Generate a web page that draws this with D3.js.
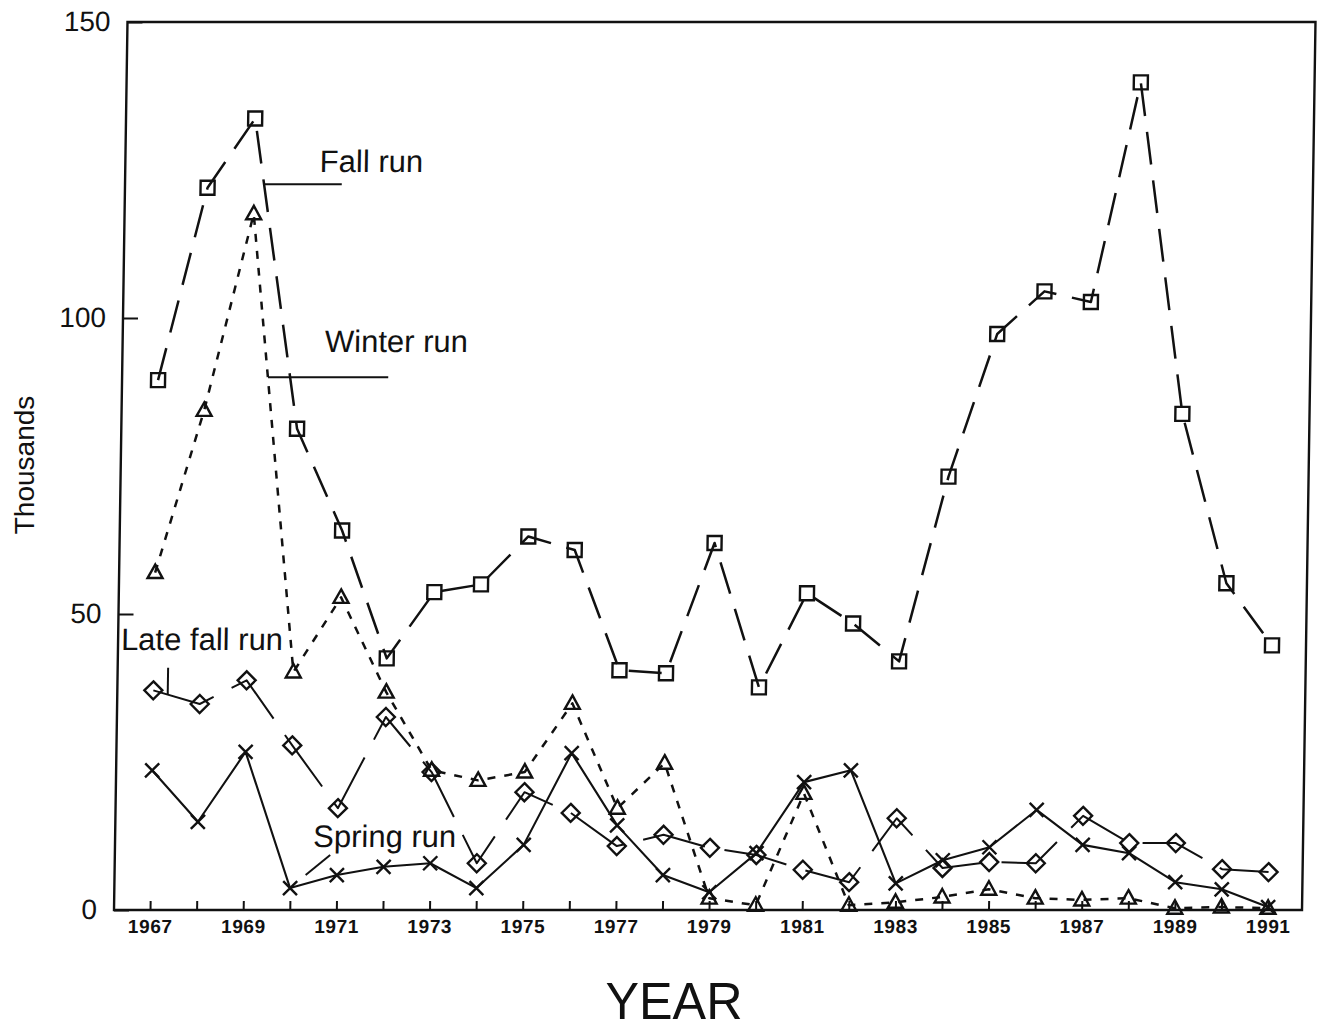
<!DOCTYPE html>
<html>
<head>
<meta charset="utf-8">
<script src="https://cdn.jsdelivr.net/npm/d3@7/dist/d3.min.js"></script>
<style>
  body { margin: 0; background: #fff; }
  svg { display: block; }
  text { font-family: "Liberation Sans", Arial, Helvetica, sans-serif; fill: #111; }
</style>
</head>
<body>
<svg id="chart" width="1325" height="1030"></svg>
<script>
// Sacramento River chinook salmon runs, spawning escapement (thousands)
const years = [1967, 1968, 1969, 1970, 1971, 1972, 1973, 1974, 1975, 1976, 1977, 1978, 1979,
               1980, 1981, 1982, 1983, 1984, 1985, 1986, 1987, 1988, 1989, 1990, 1991];

const fallRun = [89.5, 122.0, 133.7, 81.3, 64.1, 42.5, 53.7, 55.0, 63.1, 60.8, 40.5, 40.0, 62.0,
                 37.6, 53.5, 48.4, 42.0, 73.2, 97.3, 104.5, 102.7, 139.8, 83.8, 55.2, 44.7];

const winterRun = [57.0, 84.4, 117.6, 40.2, 52.8, 36.8, 23.6, 21.9, 23.3, 34.9, 17.2, 24.8, 2.0,
                   0.8, 19.7, 0.8, 1.3, 2.2, 3.5, 2.0, 1.7, 2.0, 0.3, 0.5, 0.3];

const lateFallRun = [37.1, 34.8, 38.8, 27.8, 17.2, 32.6, 23.3, 7.9, 19.9, 16.4, 10.8, 12.7, 10.5,
                     9.3, 6.8, 4.7, 15.5, 7.1, 8.1, 7.9, 15.9, 11.3, 11.3, 6.9, 6.4];

const springRun = [23.6, 14.9, 26.7, 3.7, 5.9, 7.3, 7.9, 3.7, 11.0, 26.5, 14.3, 5.9, 3.0,
                   9.6, 21.6, 23.6, 4.5, 8.4, 10.6, 16.9, 11.0, 9.6, 4.7, 3.5, 0.5];

const yTickValues = [0, 50, 100, 150];
const xLabelYears = [1967, 1969, 1971, 1973, 1975, 1977, 1979, 1981, 1983, 1985, 1987, 1989, 1991];

// Run labels with leader lines, positioned in data units (year, thousands)
const runLabels = [
  { text: "Fall run",      x: 1970.40, y: 124.7, leader: [[1969.19, 122.6], [1970.88, 122.6]] },
  { text: "Winter run",    x: 1970.57, y: 94.3,  leader: [[1969.36, 90.0], [1971.94, 90.0]] },
  { text: "Late fall run", x: 1966.29, y: 43.9,  leader: [[1967.31, 40.9], [1967.31, 36.3]] },
  { text: "Spring run",    x: 1970.48, y: 10.6,  leader: [[1970.85, 9.3], [1970.33, 5.9]] }
];

const svg = d3.select("#chart");
const plotLeft = 114, plotRight = 1302, plotTop = 22, plotBottom = 910;

const x = d3.scaleLinear().domain([1966.227, 1991.73]).range([plotLeft, plotRight]);
const y = d3.scaleLinear().domain([0, 150]).range([plotBottom, plotTop]);

svg.append("rect").attr("width", 1325).attr("height", 1030).attr("fill", "#fff");

// the plotted panel leans slightly to the right as it rises
const g = svg.append("g")
  .attr("transform", `translate(0,${plotBottom}) skewX(-0.87) translate(0,${-plotBottom})`);

// frame
g.append("rect")
  .attr("x", plotLeft).attr("y", plotTop)
  .attr("width", plotRight - plotLeft).attr("height", plotBottom - plotTop)
  .attr("fill", "none").attr("stroke", "#111").attr("stroke-width", 2.4);

// x axis: a tick every year, labels on odd years
const xAxis = d3.axisBottom(x)
  .tickValues(years)
  .tickSize(-9)
  .tickPadding(10)
  .tickFormat(d => xLabelYears.includes(d) ? String(d) : "");
const xg = g.append("g").attr("transform", `translate(0,${plotBottom})`).call(xAxis);
xg.select(".domain").remove();
xg.selectAll(".tick line").attr("stroke", "#111").attr("stroke-width", 2);
xg.selectAll(".tick text")
  .style("font-family", "'Liberation Sans', Arial, sans-serif")
  .attr("font-size", 19).attr("font-weight", "bold").attr("fill", "#111")
  .attr("letter-spacing", 0.6);

// y axis
const yAxis = d3.axisLeft(y)
  .tickValues(yTickValues)
  .tickSize(-15)
  .tickPadding(17)
  .tickFormat(d3.format("d"));
const yg = g.append("g").attr("transform", `translate(${plotLeft},0)`).call(yAxis);
yg.select(".domain").remove();
yg.selectAll(".tick line").attr("stroke", "#111").attr("stroke-width", 2);
yg.selectAll(".tick text")
  .style("font-family", "'Liberation Sans', Arial, sans-serif")
  .attr("font-size", 28).attr("fill", "#111");

// series
const series = [
  { name: "fall",     values: fallRun,     dash: "33,16", width: 2.5, marker: "square" },
  { name: "winter",   values: winterRun,   dash: "8,9",   width: 2.5, marker: "triangle" },
  { name: "latefall", values: lateFallRun, dash: "64,20", width: 2.0, marker: "diamond" },
  { name: "spring",   values: springRun,   dash: null,    width: 2.1, marker: "cross" }
];

const line = d3.line().x(d => x(d.year)).y(d => y(d.value));

const markerPaths = {
  square:   "M-7,-7H7V7H-7Z",
  triangle: "M0,-8L7.5,5.5H-7.5Z",
  diamond:  "M0,-9L9,0L0,9L-9,0Z",
  cross:    "M-7,-7L7,7M7,-7L-7,7"
};

series.forEach(s => {
  const pts = years.map((yr, i) => ({ year: yr, value: s.values[i] }));
  const sg = g.append("g").attr("class", "series-" + s.name);
  sg.append("path")
    .datum(pts)
    .attr("d", line)
    .attr("fill", "none")
    .attr("stroke", "#111")
    .attr("stroke-width", s.width)
    .attr("stroke-dasharray", s.dash)
    .attr("stroke-linejoin", "round");
  sg.selectAll("path.marker")
    .data(pts)
    .join("path")
    .attr("class", "marker")
    .attr("transform", d => `translate(${x(d.year)},${y(d.value)})`)
    .attr("d", markerPaths[s.marker])
    .attr("fill", "none")
    .attr("stroke", "#111")
    .attr("stroke-width", 2.4);
});

// run labels and their leader lines
runLabels.forEach(lb => {
  g.append("text")
    .attr("x", x(lb.x)).attr("y", y(lb.y))
    .attr("font-size", 31)
    .text(lb.text);
  g.append("path")
    .attr("d", d3.line().x(p => x(p[0])).y(p => y(p[1]))(lb.leader))
    .attr("stroke", "#111").attr("stroke-width", 2).attr("fill", "none");
});

// axis titles
svg.append("text")
  .attr("transform", "translate(34,465) rotate(-90)")
  .attr("text-anchor", "middle")
  .attr("font-size", 28)
  .text("Thousands");

svg.append("text")
  .attr("x", 674).attr("y", 1019)
  .attr("text-anchor", "middle")
  .attr("font-size", 51)
  .attr("textLength", 137)
  .attr("lengthAdjust", "spacingAndGlyphs")
  .text("YEAR");
</script>
</body>
</html>
